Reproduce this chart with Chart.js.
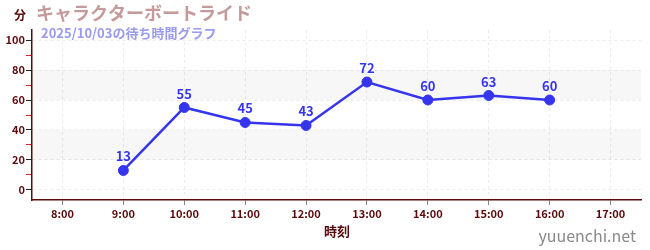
<!DOCTYPE html>
<html><head><meta charset="utf-8">
<script src="https://cdn.jsdelivr.net/npm/chart.js@4"></script>
<style>html,body{margin:0;padding:0;background:#fff}#wrap{width:650px;height:250px}</style>
</head><body><div id="wrap"><canvas id="c" width="650" height="250"></canvas></div>
<script>
const titleText = 'キャラクターボートライド';
const subtitleText = '2025/10/03の待ち時間グラフ';
const yAxisTitle = '分';
const xAxisTitle = '時刻';
const watermark = 'yuuenchi.net';
const hours = [9, 10, 11, 12, 13, 14, 15, 16];
const waits = [13, 55, 45, 43, 72, 60, 63, 60];
const xTickHours = [8, 9, 10, 11, 12, 13, 14, 15, 16, 17];
const bandRanges = [[20, 40], [60, 80]];

const FONT = "'Noto Sans CJK JP', 'Noto Sans', sans-serif";
const AXIS = '#5a0a0a';
const BLUE = '#3535ee';

const overlay = {
  id: 'overlay',
  beforeDatasetsDraw(chart) {
    const {ctx, chartArea: a, scales: {y}} = chart;
    ctx.save();
    ctx.fillStyle = 'rgba(0,0,0,0.03)';
    bandRanges.forEach(([lo, hi]) => {
      const t = y.getPixelForValue(hi), b = y.getPixelForValue(lo);
      ctx.fillRect(a.left, t, a.right - a.left, b - t);
    });
    ctx.restore();
  },
  afterDatasetsDraw(chart) {
    const {ctx} = chart;
    const meta = chart.getDatasetMeta(0);
    ctx.save();
    ctx.font = 'bold 13px ' + FONT;
    ctx.fillStyle = BLUE;
    ctx.textAlign = 'center';
    ctx.textBaseline = 'alphabetic';
    meta.data.forEach((p, i) => {
      ctx.fillText(String(waits[i]), p.x, p.y - 9);
    });
    ctx.restore();
  },
  afterDraw(chart) {
    const {ctx} = chart;
    ctx.save();
    ctx.textBaseline = 'alphabetic';
    ctx.textAlign = 'left';
    ctx.font = 'bold 18px ' + FONT;
    ctx.fillStyle = '#c49a9a';
    ctx.fillText(titleText, 36, 20);
    ctx.font = 'bold 13px ' + FONT;
    ctx.fillStyle = '#9a9af0';
    ctx.fillText(subtitleText, 41, 38);
    ctx.font = 'bold 12px ' + FONT;
    ctx.fillStyle = AXIS;
    ctx.fillText(yAxisTitle, 14, 20);
    ctx.textAlign = 'center';
    ctx.font = 'bold 13px ' + FONT;
    ctx.fillText(xAxisTitle, 337, 236);
    ctx.textAlign = 'right';
    ctx.font = '16px ' + FONT;
    ctx.fillStyle = '#8a8a8a';
    ctx.fillText(watermark, 636, 242);
    ctx.restore();
  }
};

new Chart(document.getElementById('c'), {
  type: 'line',
  data: {
    datasets: [{
      data: hours.map((h, i) => ({x: h, y: waits[i]})),
      borderColor: BLUE,
      backgroundColor: BLUE,
      borderWidth: 2.5,
      pointRadius: 5,
      pointBorderWidth: 1,
      pointHoverRadius: 5,
      pointBackgroundColor: BLUE,
      pointBorderColor: BLUE,
      tension: 0,
      clip: false
    }]
  },
  options: {
    responsive: false,
    animation: false,
    devicePixelRatio: 1,
    layout: {padding: {top: 30, right: 9, left: 0, bottom: 0}},
    plugins: {legend: {display: false}, tooltip: {enabled: false}},
    scales: {
      x: {
        type: 'linear',
        min: 7.5, max: 17.5,
        afterBuildTicks(s) { s.ticks = xTickHours.map(v => ({value: v})); },
        afterFit(s) { s.height = 50; },
        ticks: {
          callback: v => v + ':00',
          color: AXIS,
          font: {family: FONT, size: 11, weight: 'bold'},
          padding: 2,
          maxRotation: 0,
          autoSkip: false
        },
        grid: {
          color: '#ececec',
          lineWidth: 1,
          drawTicks: true,
          tickLength: 5,
          tickColor: '#888'
        },
        border: {color: AXIS, width: 1.5, dash: [3, 3]}
      },
      y: {
        min: -6.7, max: 106.7,
        afterBuildTicks(s) {
          const t = [];
          for (let v = 0; v <= 100; v += 10) t.push({value: v});
          s.ticks = t;
        },
        afterFit(s) { s.width = 32; },
        ticks: {
          callback: v => (v % 20 === 0 ? String(v) : ''),
          color: AXIS,
          font: {family: FONT, size: 11, weight: 'bold'},
          padding: 1,
          autoSkip: false
        },
        grid: {
          color: c => (c.tick && c.tick.value % 20 === 0 ? '#ececec' : 'rgba(0,0,0,0)'),
          lineWidth: 1,
          drawTicks: true,
          tickLength: 6,
          tickColor: c => (c.tick && c.tick.value % 20 === 0 ? '#222' : '#e02020')
        },
        border: {color: AXIS, width: 1.5, dash: [3, 3]}
      }
    }
  },
  plugins: [overlay]
});
</script>
</body></html>
